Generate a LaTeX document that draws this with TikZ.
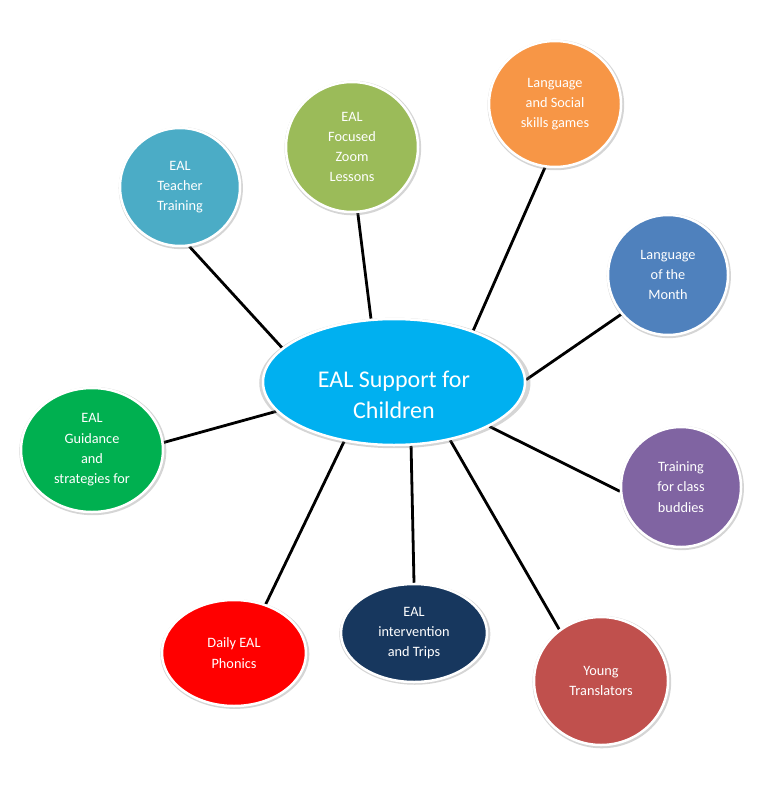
\documentclass[tikz,border=0pt]{standalone}
\usepackage{fontspec}
\setmainfont{Carlito}
\usetikzlibrary{shapes.geometric,shadows,backgrounds}

\definecolor{hubblue}{HTML}{00B0F0}
\definecolor{teachblue}{HTML}{4BACC6}
\definecolor{zoomgreen}{HTML}{9BBB59}
\definecolor{gamesorange}{HTML}{F79646}
\definecolor{monthblue}{HTML}{4F81BD}
\definecolor{buddypurple}{HTML}{8064A2}
\definecolor{translred}{HTML}{C0504D}
\definecolor{intervnavy}{HTML}{17375E}
\definecolor{phonicsred}{HTML}{FF0000}
\definecolor{guidegreen}{HTML}{00B050}

\tikzset{
  leaf/.style     = {shape=ellipse, draw=white, line width=2.5pt,
                     inner sep=0pt, align=center, text=white,
                     font=\fontsize{14.3}{20.3}\selectfont,
                     drop shadow={shadow scale=1.035, shadow xshift=0.8pt,
                                  shadow yshift=-1pt, opacity=0.3,
                                  fill=black!55}},
  hub/.style      = {leaf},
  hublabel/.style = {align=center, text=white, inner sep=0pt,
                     font=\fontsize{24}{31}\selectfont},
  link/.style     = {draw, line width=2.8pt}
}

\begin{document}
\begin{tikzpicture}[x=1pt, y=-1pt]
\useasboundingbox (0,0) rectangle (762,789);

\node[hub, fill=hubblue, minimum width=262pt, minimum height=126pt,
      label={[name=hubtext, hublabel, yshift=-13pt]center:{EAL Support for\\Children}}] (hub) at (394,382) {};

\node[leaf, fill=teachblue, minimum width=120pt, minimum height=118pt] (teach) at (180,187) {EAL\\Teacher\\Training};
\node[leaf, fill=zoomgreen, minimum width=132pt, minimum height=130pt] (zoomles) at (352,147) {EAL\\Focused\\Zoom\\Lessons};
\node[leaf, fill=gamesorange, minimum width=132pt, minimum height=126pt] (games) at (555,104) {Language\\and Social\\skills games};
\node[leaf, fill=monthblue, minimum width=120pt, minimum height=120pt] (month) at (668,275) {Language\\of the\\Month};
\node[leaf, fill=buddypurple, minimum width=120pt, minimum height=120pt] (buddies) at (681,487) {Training\\for class\\buddies};
\node[leaf, fill=translred, minimum width=134pt, minimum height=128pt] (transl) at (601,681) {Young\\Translators};
\node[leaf, fill=intervnavy, minimum width=146pt, minimum height=98pt] (interv) at (414,633) {EAL\\intervention\\and Trips};
\node[leaf, fill=phonicsred, minimum width=144pt, minimum height=106pt] (phonics) at (234,653) {Daily EAL\\Phonics};
\node[leaf, fill=guidegreen, minimum width=142pt, minimum height=124pt] (guide) at (92,450) {EAL\\Guidance\\and\\strategies for};

% spokes
\begin{scope}[on background layer]
\draw[link] (hub.163) -- (teach.-81);
\draw[link] (hub.110) -- (zoomles.-85);
\draw[link] (hub.33) -- (games.-99);
\draw[link] (hub.1) -- (month.220);
\draw[link] (hub.-25) -- (buddies.184);
\draw[link] (hub.-46) -- (transl.129);
\draw[link] (hub.-75) -- (interv.90);
\draw[link] (hub.-130) -- (phonics.57);
\draw[link] (hub.-166) -- (guide.6);
\end{scope}
\end{tikzpicture}
\end{document}
